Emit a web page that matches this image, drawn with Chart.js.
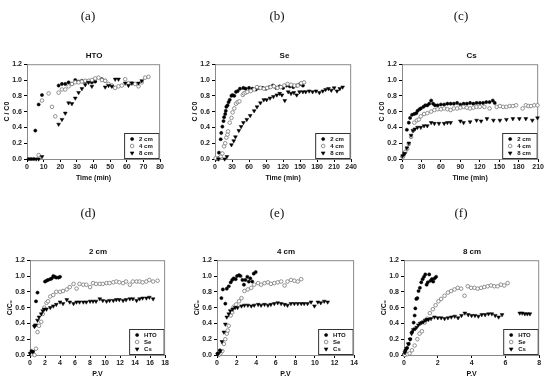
<!DOCTYPE html>
<html>
<head>
<meta charset="utf-8"/>
<title>Breakthrough curves</title>
<script src="https://cdn.jsdelivr.net/npm/chart.js"></script>
<style>
  body { margin: 0; background: #fff; width: 550px; height: 382px; position: relative; overflow: hidden; font-family: 'Liberation Sans', Arial, sans-serif; }
  canvas { position: absolute; }
  .lab { position: absolute; font-family: 'Liberation Serif', 'DejaVu Serif', serif; font-size: 13px; color: #111; transform: translate(-50%, -50%); }
  .ttl { position: absolute; font-weight: bold; font-size: 8px; color: #111; transform: translate(-50%, -50%); }
</style>
</head>
<body>
<script>
// panel (a) HTO, time in min
const a2cm = [[1,0],[2.5,0],[4,0],[5,0.36],[7,0.69],[9,0.81],[19,0.93],[21,0.95],[23,0.95],[25,0.97],[27,0.95],[29,1.0],[31,0.98],[33,0.99],[35,0.98],[37,0.98],[39,0.97],[41,0.98],[45,1.01],[47,0.99]];
const a4cm = [[7,0.05],[9,0.74],[13,0.83],[15,0.66],[17,0.54],[19,0.84],[21,0.88],[23,0.88],[25,0.92],[27,0.95],[29,0.97],[31,0.97],[33,0.98],[35,0.99],[37,0.99],[39,1.0],[41,1.02],[43,1.03],[45,1.0],[47,0.99],[49,0.95],[51,0.93],[53,0.9],[55,0.92],[57,0.93],[59,1.01],[61,0.96],[63,0.96],[65,0.95],[67,0.92],[69,0.97],[71,1.03],[73,1.04]];
const a8cm = [[5.5,0],[7,0],[9,0.03],[19,0.44],[21,0.5],[23,0.58],[25,0.71],[27,0.7],[29,0.77],[31,0.84],[33,0.89],[35,0.94],[37,0.97],[39,0.92],[47,0.91],[49,0.93],[51,0.92],[53,1.01],[55,1.01],[59,0.96],[61,0.93],[63,0.96],[67,0.96],[69,0.99]];
// panel (b) Se
const b2cm = [[3,0],[6,0.01],[7,0.08],[10,0.25],[11,0.33],[13,0.41],[15,0.48],[16,0.53],[18,0.57],[19,0.61],[20,0.66],[22,0.68],[24,0.72],[26,0.75],[29,0.8],[31,0.81],[34,0.8],[37,0.85],[40,0.86],[44,0.89],[50,0.9],[54,0.89],[60,0.9],[66,0.89],[72,0.88],[78,0.9],[84,0.9],[90,0.89],[96,0.91],[102,0.93],[108,0.9],[114,0.92],[120,0.9],[126,0.93],[132,0.92],[138,0.91],[144,0.93],[150,0.95],[155,0.93]];
const b4cm = [[1,0.01],[6,0],[10,0.03],[13,0.07],[16,0.16],[18,0.2],[20,0.27],[22,0.31],[23,0.35],[26,0.46],[29,0.52],[31,0.59],[34,0.64],[37,0.7],[40,0.72],[43,0.73],[49,0.81],[51,0.83],[54,0.84],[57,0.85],[63,0.86],[69,0.88],[74,0.91],[80,0.9],[86,0.89],[92,0.9],[98,0.91],[104,0.92],[110,0.9],[116,0.91],[122,0.93],[128,0.95],[134,0.94],[140,0.93],[146,0.93],[152,0.96],[157,0.97]];
const b8cm = [[6,0],[17,0],[21,0.03],[29,0.18],[33,0.23],[36,0.28],[42,0.36],[46,0.41],[50,0.46],[56,0.5],[62,0.55],[69,0.61],[74,0.66],[80,0.71],[86,0.75],[91,0.75],[97,0.77],[103,0.79],[109,0.81],[114,0.83],[118,0.81],[123,0.74],[129,0.85],[134,0.83],[139,0.84],[144,0.81],[149,0.85],[155,0.85],[160,0.85],[166,0.86],[172,0.85],[178,0.86],[184,0.84],[190,0.86],[195,0.88],[200,0.89],[205,0.87],[210,0.9],[215,0.86],[220,0.89],[225,0.91]];
// panel (c) Cs
const c2cm = [[0.5,0.03],[2.5,0.05],[4.5,0.08],[7.5,0.37],[10.5,0.46],[12.5,0.52],[15.5,0.56],[19,0.57],[22,0.58],[24,0.61],[27,0.63],[29,0.64],[33,0.66],[36,0.68],[39,0.68],[42,0.7],[45,0.74],[48,0.7],[51,0.68],[55,0.68],[60,0.69],[65,0.69],[70,0.7],[75,0.7],[80,0.7],[85,0.71],[90,0.69],[95,0.7],[100,0.7],[105,0.71],[110,0.7],[115,0.71],[120,0.71],[125,0.71],[130,0.72],[135,0.72],[140,0.74],[143,0.71]];
const c4cm = [[1.5,0.03],[5,0.09],[8,0.13],[10.5,0.19],[14,0.28],[17,0.36],[19,0.46],[23,0.49],[26,0.5],[29,0.54],[34,0.57],[39,0.58],[45,0.6],[50,0.62],[55,0.63],[60,0.63],[65,0.64],[70,0.63],[75,0.62],[80,0.64],[85,0.64],[90,0.65],[95,0.66],[100,0.65],[105,0.64],[110,0.65],[115,0.66],[120,0.66],[127,0.66],[135,0.64],[146,0.66],[151,0.67],[156,0.66],[161,0.66],[166,0.67],[171,0.67],[176,0.68],[186,0.64],[191,0.68],[195,0.67],[199,0.67],[204,0.68],[209,0.68]];
const c8cm = [[1,0.04],[4,0.07],[7.5,0.14],[10.5,0.2],[14,0.3],[17,0.36],[20,0.38],[24,0.4],[29,0.4],[34,0.42],[39,0.42],[45,0.46],[50,0.45],[57,0.45],[65,0.45],[70,0.46],[75,0.46],[90,0.48],[95,0.46],[105,0.47],[115,0.49],[122,0.48],[131,0.51],[141,0.49],[151,0.49],[161,0.5],[171,0.51],[181,0.51],[191,0.51],[201,0.49],[209,0.52]];
// panel (d) 2 cm, pore volumes
const dHTO = [[0.1,0.02],[0.2,0.05],[0.4,0.04],[0.6,0.37],[0.8,0.68],[1.0,0.79],[2.0,0.93],[2.2,0.94],[2.4,0.95],[2.7,0.96],[2.9,0.97],[3.1,1.0],[3.3,0.99],[3.5,0.98],[3.8,0.98],[4.0,0.99]];
const dSe = [[0.2,0.01],[0.6,0],[0.8,0.08],[1.0,0.29],[1.2,0.37],[1.5,0.42],[1.7,0.52],[1.9,0.6],[2.2,0.66],[2.4,0.68],[2.7,0.74],[3.1,0.76],[3.5,0.8],[4.0,0.8],[4.4,0.81],[4.9,0.83],[5.3,0.86],[5.8,0.9],[6.2,0.84],[6.6,0.9],[7.1,0.89],[7.5,0.89],[8.0,0.86],[8.4,0.91],[8.8,0.9],[9.3,0.9],[9.7,0.9],[10.2,0.91],[10.6,0.91],[11.1,0.92],[11.5,0.93],[11.9,0.92],[12.4,0.91],[12.8,0.93],[13.3,0.89],[13.7,0.93],[14.2,0.93],[14.6,0.93],[15.0,0.92],[15.5,0.93],[15.9,0.95],[16.4,0.93],[17.0,0.94]];
const dCs = [[0,0.02],[0.35,0.04],[0.6,0.36],[0.75,0.38],[1.0,0.44],[1.2,0.48],[1.5,0.52],[1.7,0.56],[1.9,0.58],[2.2,0.58],[2.7,0.6],[3.1,0.62],[3.5,0.64],[4.0,0.67],[4.4,0.65],[4.9,0.7],[5.3,0.67],[5.8,0.65],[6.2,0.67],[6.6,0.67],[7.1,0.67],[7.5,0.67],[8.0,0.68],[8.4,0.68],[8.8,0.68],[9.3,0.71],[9.7,0.69],[10.2,0.68],[10.6,0.69],[11.1,0.69],[11.5,0.7],[11.9,0.7],[12.4,0.69],[12.8,0.7],[13.3,0.71],[13.7,0.71],[14.2,0.69],[14.6,0.71],[15.0,0.72],[15.5,0.72],[15.9,0.73],[16.4,0.71]];
// panel (e) 4 cm
const eHTO = [[0.1,0.02],[0.3,0.06],[0.45,0.72],[0.6,0.83],[0.85,0.65],[1.0,0.84],[1.2,0.87],[1.4,0.92],[1.55,0.95],[1.7,0.97],[1.9,0.96],[2.05,1.0],[2.25,1.01],[2.4,1.0],[2.6,0.95],[2.75,0.89],[2.9,0.95],[3.1,0.99],[3.25,0.93],[3.4,0.97],[3.6,0.93],[3.75,1.03],[3.95,1.05]];
const eSe = [[0.2,0],[0.35,0.02],[0.55,0.05],[0.7,0.14],[0.85,0.2],[1.0,0.27],[1.1,0.31],[1.2,0.37],[1.4,0.5],[1.55,0.54],[1.7,0.61],[1.95,0.64],[2.25,0.68],[2.5,0.72],[2.8,0.81],[3.15,0.83],[3.5,0.85],[3.8,0.89],[4.2,0.91],[4.5,0.89],[4.85,0.91],[5.2,0.92],[5.5,0.9],[5.85,0.91],[6.2,0.92],[6.55,0.93],[6.9,0.88],[7.2,0.93],[7.55,0.95],[7.9,0.94],[8.25,0.93],[8.6,0.96]];
const eCs = [[0.05,0.01],[0.15,0.02],[0.35,0.05],[0.5,0.17],[0.7,0.29],[0.85,0.39],[1.0,0.48],[1.2,0.52],[1.35,0.56],[1.6,0.58],[1.85,0.6],[2.1,0.6],[2.5,0.62],[2.8,0.63],[3.15,0.63],[3.5,0.62],[3.8,0.63],[4.2,0.64],[4.5,0.63],[4.85,0.64],[5.2,0.63],[5.5,0.64],[5.85,0.65],[6.2,0.66],[6.55,0.65],[6.9,0.64],[7.2,0.63],[7.55,0.65],[7.9,0.65],[8.25,0.65],[8.6,0.65],[8.9,0.65],[9.25,0.65],[9.6,0.67],[9.95,0.62],[10.3,0.67],[10.6,0.66],[10.95,0.68],[11.3,0.67]];
// panel (f) 8 cm
const fHTO = [[0,0.01],[0.08,0.06],[0.18,0.09],[0.28,0.14],[0.37,0.2],[0.47,0.29],[0.57,0.41],[0.63,0.5],[0.67,0.59],[0.73,0.71],[0.79,0.72],[0.86,0.81],[0.94,0.85],[1.02,0.92],[1.1,0.96],[1.18,0.99],[1.26,1.02],[1.34,0.89],[1.41,0.92],[1.49,1.02],[1.57,0.94],[1.65,0.96],[1.73,0.93],[1.81,0.97],[1.9,0.99]];
const fSe = [[0.04,0],[0.2,0.01],[0.33,0.02],[0.47,0.06],[0.63,0.12],[0.79,0.2],[0.92,0.27],[1.06,0.3],[1.22,0.41],[1.38,0.46],[1.53,0.53],[1.71,0.58],[1.87,0.63],[2.04,0.68],[2.2,0.71],[2.4,0.75],[2.6,0.79],[2.79,0.81],[2.99,0.83],[3.18,0.85],[3.38,0.84],[3.58,0.75],[3.77,0.87],[3.97,0.85],[4.17,0.85],[4.36,0.84],[4.56,0.85],[4.75,0.86],[4.95,0.87],[5.15,0.88],[5.34,0.87],[5.54,0.87],[5.74,0.89],[5.93,0.88],[6.13,0.91]];
const fCs = [[0.05,0.03],[0.15,0.08],[0.25,0.14],[0.35,0.2],[0.45,0.27],[0.55,0.32],[0.65,0.33],[0.75,0.35],[0.85,0.38],[0.95,0.4],[1.05,0.41],[1.15,0.42],[1.25,0.44],[1.35,0.45],[1.45,0.45],[1.6,0.46],[1.8,0.48],[2.0,0.47],[2.2,0.47],[2.4,0.46],[2.6,0.47],[2.8,0.48],[3.0,0.49],[3.2,0.47],[3.4,0.5],[3.6,0.53],[3.8,0.51],[4.0,0.5],[4.2,0.5],[4.4,0.49],[4.6,0.51],[4.8,0.51],[5.0,0.52],[5.2,0.52],[5.4,0.5],[5.6,0.48],[5.8,0.51],[6.85,0.53],[7.0,0.53],[7.15,0.52],[7.3,0.52],[7.45,0.52]];

const lengthNames = ['2 cm', '4 cm', '8 cm'];
const tracerNames = ['HTO', 'Se', 'Cs'];

const FONT = "'Liberation Sans', Arial, sans-serif";

// marker styles: filled circle, open grey circle, filled down triangle
const markers = [
  { pointStyle: 'circle', radius: 1.6, bg: '#000', border: '#000', rot: 0 },
  { pointStyle: 'circle', radius: 1.8, bg: '#fff', border: '#777', rot: 0 },
  { pointStyle: 'triangle', radius: 2.2, bg: '#000', border: '#000', rot: 180 }
];

const framePlugin = {
  id: 'frame',
  beforeDatasetsDraw(chart) {
    const a = chart.chartArea, c = chart.ctx;
    c.save();
    c.strokeStyle = '#8a8a8a';
    c.lineWidth = 1;
    c.strokeRect(a.left + 0.5, a.top + 0.5, a.right - a.left - 1, a.bottom - a.top);
    c.restore();
  },
  afterDatasetsDraw(chart, args, opts) {
    const a = chart.chartArea, c = chart.ctx;
    const w = 36, h = 26;
    const x = a.right - w, y = a.bottom - h;
    c.save();
    c.fillStyle = '#fff';
    c.fillRect(x, y, w, h);
    c.strokeStyle = '#333';
    c.lineWidth = 1;
    c.strokeRect(x + 0.5, y + 0.5, w - 1.5, h - 1);
    c.font = 'bold 6px ' + FONT;
    c.textBaseline = 'middle';
    opts.names.forEach((n, i) => {
      const m = markers[i];
      const yy = y + 6 + i * 7;
      c.fillStyle = m.bg;
      c.strokeStyle = m.border;
      c.lineWidth = i === 1 ? 0.8 : 0.5;
      Chart.helpers.drawPoint(c, { pointStyle: m.pointStyle, radius: m.radius, rotation: m.rot, borderWidth: c.lineWidth }, x + 8, yy);
      c.fillStyle = '#111';
      c.fillText(n, x + 15, yy);
    });
    c.restore();
  }
};

function makePanel(p) {
  const padTop = 4, padRight = 4, yW = 24, xH = 23;
  const cv = document.createElement('canvas');
  const w = p.R - p.L + yW + padRight;
  const h = p.B - p.T + padTop + xH;
  cv.width = w; cv.height = h;
  cv.style.left = (p.L - yW) + 'px';
  cv.style.top = (p.T - padTop) + 'px';
  cv.style.width = w + 'px';
  cv.style.height = h + 'px';
  document.body.appendChild(cv);

  const t = document.createElement('div');
  t.className = 'ttl';
  t.textContent = p.title;
  t.style.left = ((p.L + p.R) / 2) + 'px';
  t.style.top = (p.T - 7) + 'px';
  document.body.appendChild(t);

  const l = document.createElement('div');
  l.className = 'lab';
  l.textContent = p.letter;
  l.style.left = p.lx + 'px';
  l.style.top = p.ly + 'px';
  document.body.appendChild(l);

  const datasets = p.series.map((s, i) => ({
    label: p.names[i],
    data: s.map(d => ({ x: d[0], y: d[1] })),
    pointStyle: markers[i].pointStyle,
    pointRadius: markers[i].radius,
    pointRotation: markers[i].rot,
    pointBackgroundColor: markers[i].bg,
    pointBorderColor: markers[i].border,
    pointBorderWidth: i === 1 ? 0.8 : 0.5,
    showLine: false,
    clip: false
  })).reverse();

  new Chart(cv, {
    type: 'scatter',
    data: { datasets: datasets },
    plugins: [framePlugin],
    options: {
      responsive: false,
      animation: false,
      layout: { padding: { top: padTop, right: padRight, left: 0, bottom: 0 } },
      plugins: {
        legend: { display: false },
        tooltip: { enabled: false },
        frame: { names: p.names }
      },
      scales: {
        x: {
          type: 'linear', min: 0, max: p.xMax,
          afterFit(s) { s.height = xH; },
          ticks: { stepSize: p.xStep, autoSkip: false, maxRotation: 0, padding: 1, color: '#222', font: { family: FONT, size: 7, weight: 'bold' } },
          grid: { drawOnChartArea: false, drawTicks: true, tickLength: 3, color: '#000' },
          border: { display: true, color: '#000' },
          title: { display: true, text: p.xTitle, padding: 0, color: '#111', font: { family: FONT, size: 7, weight: 'bold' } }
        },
        y: {
          type: 'linear', min: 0, max: 1.2,
          afterFit(s) { s.width = yW; },
          ticks: { stepSize: 0.2, padding: 2, color: '#222', font: { family: FONT, size: 7, weight: 'bold' }, callback: v => v.toFixed(1) },
          grid: { drawOnChartArea: false, drawTicks: true, tickLength: 3, color: '#000' },
          border: { display: true, color: '#000' },
          title: { display: true, text: p.yTitle, padding: 0, color: '#111', font: { family: FONT, size: 7, weight: 'bold' } }
        }
      }
    }
  });
}

makePanel({ L: 27, R: 161, T: 62, B: 159, xMax: 80, xStep: 10, title: 'HTO', letter: '(a)', lx: 88, ly: 16, yTitle: 'C / C0', xTitle: 'Time (min)', names: lengthNames, series: [a2cm, a4cm, a8cm] });
makePanel({ L: 215, R: 354, T: 62, B: 159, xMax: 240, xStep: 30, title: 'Se', letter: '(b)', lx: 277, ly: 16, yTitle: 'C / C0', xTitle: 'Time (min)', names: lengthNames, series: [b2cm, b4cm, b8cm] });
makePanel({ L: 402, R: 541, T: 62, B: 159, xMax: 210, xStep: 30, title: 'Cs', letter: '(c)', lx: 461, ly: 16, yTitle: 'C / C0', xTitle: 'Time (min)', names: lengthNames, series: [c2cm, c4cm, c8cm] });
makePanel({ L: 30, R: 166, T: 258, B: 355, xMax: 18, xStep: 2, title: '2 cm', letter: '(d)', lx: 88, ly: 213, yTitle: 'C/C\u2080', xTitle: 'P.V', names: tracerNames, series: [dHTO, dSe, dCs] });
makePanel({ L: 217, R: 355, T: 258, B: 355, xMax: 14, xStep: 2, title: '4 cm', letter: '(e)', lx: 277, ly: 213, yTitle: 'C/C\u2080', xTitle: 'P.V', names: tracerNames, series: [eHTO, eSe, eCs] });
makePanel({ L: 404, R: 540, T: 258, B: 355, xMax: 8, xStep: 2, title: '8 cm', letter: '(f)', lx: 461, ly: 213, yTitle: 'C/C\u2080', xTitle: 'P.V', names: tracerNames, series: [fHTO, fSe, fCs] });
</script>
</body>
</html>
